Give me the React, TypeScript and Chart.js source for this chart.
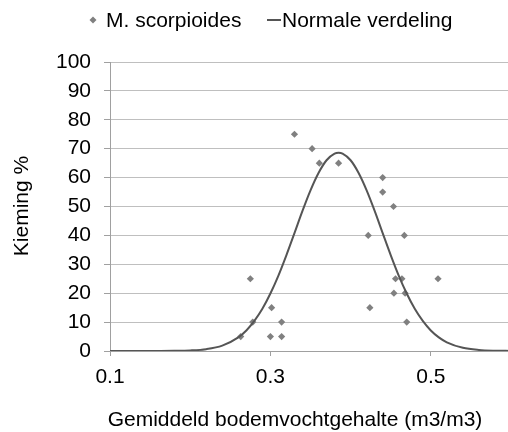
import { useEffect, useRef } from "react";
import { Chart, registerables } from "chart.js";

Chart.register(...registerables);

const FONT = '"Liberation Sans", Arial, sans-serif';

const scatterLabel = "M. scorpioides";
const curveLabel = "Normale verdeling";
const xTitle = "Gemiddeld bodemvochtgehalte (m3/m3)";
const yTitle = "Kieming %";

// Observed points: soil moisture (m3/m3) vs germination %
const moistureValues = [
  0.33, 0.352, 0.361, 0.385, 0.44, 0.44, 0.4535, 0.422, 0.467, 0.456, 0.464, 0.509,
  0.454, 0.468, 0.424, 0.47, 0.275, 0.3015, 0.278, 0.314, 0.263, 0.3, 0.314,
];
const germinationValues = [
  75, 70, 65, 65, 60, 55, 50, 40, 40, 25, 25, 25,
  20, 20, 15, 10, 25, 15, 10, 10, 5, 5, 5,
];

// Normal curve
const curveXValues = [
  0.1, 0.12, 0.14, 0.16, 0.18, 0.2, 0.22, 0.24, 0.26, 0.27, 0.28, 0.29, 0.3, 0.31,
  0.32, 0.33, 0.34, 0.35, 0.36, 0.37, 0.38, 0.385, 0.39, 0.4, 0.41, 0.42, 0.43, 0.44, 0.45,
  0.46, 0.47, 0.48, 0.49, 0.5, 0.51, 0.52, 0.54, 0.56, 0.58, 0.6,
];
const curveYValues = [
  0, 0, 0, 0.01, 0.05, 0.19, 0.64, 1.86, 4.7, 7.1, 10.4, 14.6, 19.9, 26.1,
  33.2, 40.8, 48.5, 55.6, 61.6, 66.0, 68.3, 68.6, 68.3, 66.0, 61.6, 55.6, 48.5, 40.8, 33.2,
  26.1, 19.9, 14.6, 10.4, 7.1, 4.7, 3.0, 1.1, 0.36, 0.1, 0.03,
];

const xTickValues = [0.1, 0.3, 0.5];
const yTickValues = [0, 10, 20, 30, 40, 50, 60, 70, 80, 90, 100];

const POINT_COLOR = "#808080";
const CURVE_COLOR = "#555555";
const GRID_COLOR = "#bfbfbf";
const AXIS_COLOR = "#a0a0a0";

const overlayPlugin = {
  id: "overlay",
  afterDraw(chart: any) {
    const ctx = chart.ctx as CanvasRenderingContext2D;
    ctx.save();
    ctx.font = `21px ${FONT}`;
    ctx.textBaseline = "alphabetic";
    // legend: scatter marker
    ctx.fillStyle = POINT_COLOR;
    ctx.beginPath();
    ctx.moveTo(93, 16.5);
    ctx.lineTo(96.5, 20);
    ctx.lineTo(93, 23.5);
    ctx.lineTo(89.5, 20);
    ctx.closePath();
    ctx.fill();
    ctx.fillStyle = "#000";
    ctx.textAlign = "left";
    ctx.fillText(scatterLabel, 106, 27);
    // legend: curve marker
    ctx.strokeStyle = CURVE_COLOR;
    ctx.lineWidth = 2;
    ctx.beginPath();
    ctx.moveTo(267, 20);
    ctx.lineTo(281, 20);
    ctx.stroke();
    ctx.fillText(curveLabel, 282, 27);
    // x title
    ctx.textAlign = "center";
    ctx.fillText(xTitle, 295, 426);
    // y title
    ctx.translate(28, 206);
    ctx.rotate(-Math.PI / 2);
    ctx.fillText(yTitle, 0, 0);
    ctx.restore();
  },
};

export default function App() {
  const canvasRef = useRef<HTMLCanvasElement | null>(null);

  useEffect(() => {
    if (!canvasRef.current) return;
    const scatterData = moistureValues.map((x, i) => ({ x, y: germinationValues[i] }));
    const curveData = curveXValues.map((x, i) => ({ x, y: curveYValues[i] }));
    const chart = new Chart(canvasRef.current, {
      type: "scatter",
      data: {
        datasets: [
          {
            type: "line",
            label: curveLabel,
            data: curveData,
            borderColor: CURVE_COLOR,
            borderWidth: 2,
            pointRadius: 0,
            fill: false,
            cubicInterpolationMode: "monotone",
            order: 0,
          } as any,
          {
            type: "scatter",
            label: scatterLabel,
            data: scatterData,
            pointStyle: "rectRot",
            pointRadius: 3.6,
            backgroundColor: POINT_COLOR,
            borderWidth: 0,
            order: 1,
          } as any,
        ],
      },
      options: {
        animation: false,
        responsive: false,
        devicePixelRatio: 1,
        layout: { padding: { left: 0, top: 62, right: 9, bottom: 0 } },
        plugins: {
          legend: { display: false },
          tooltip: { enabled: false },
          title: { display: false },
        },
        scales: {
          x: {
            type: "linear",
            min: 0.1,
            max: 0.6,
            afterBuildTicks: (s: any) => {
              s.ticks = xTickValues.map((v) => ({ value: v }));
            },
            afterFit: (s: any) => {
              s.height = 81;
            },
            ticks: {
              callback: (v: any) => Number(v).toFixed(1),
              font: { family: FONT, size: 21 },
              color: "#000",
              padding: 9,
              maxRotation: 0,
            },
            grid: {
              drawOnChartArea: false,
              drawTicks: true,
              tickLength: 5,
              tickColor: AXIS_COLOR,
            },
            border: { color: AXIS_COLOR, width: 1 },
          },
          y: {
            type: "linear",
            min: 0,
            max: 100,
            afterBuildTicks: (s: any) => {
              s.ticks = yTickValues.map((v) => ({ value: v }));
            },
            afterFit: (s: any) => {
              s.width = 110;
            },
            ticks: {
              font: { family: FONT, size: 21 },
              color: "#000",
              padding: 13,
            },
            grid: {
              color: GRID_COLOR,
              tickLength: 6,
              tickColor: AXIS_COLOR,
            },
            border: { color: AXIS_COLOR, width: 1 },
          },
        },
      },
      plugins: [overlayPlugin],
    });
    return () => chart.destroy();
  }, []);

  return (
    <div
      style={{
        position: "absolute",
        left: 0,
        top: 0,
        width: 508,
        height: 432,
        overflow: "hidden",
        background: "#fff",
      }}
    >
      <canvas ref={canvasRef} width={520} height={432} style={{ display: "block" }} />
    </div>
  );
}
